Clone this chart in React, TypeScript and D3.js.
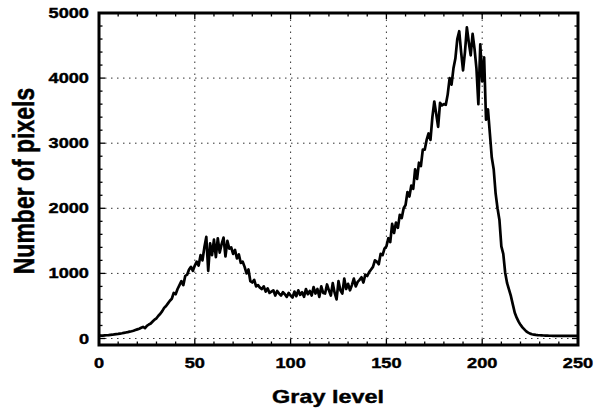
import React, { useEffect, useRef } from 'react';
import { select, scaleLinear, line, range, curveLinear } from 'd3';

const width = 597;
const height = 412;

// gray level histogram, one count per level (0..250)
const grayLevels = range(0, 251);
const pixelCounts = [
  50, 45, 45, 48, 50, 52, 55, 58, 62, 66,
  70, 75, 80, 86, 92, 98, 105, 112, 120, 130,
  140, 150, 165, 178, 160, 195, 215, 230, 260, 290,
  310, 350, 380, 420, 470, 500, 540, 580, 610, 700,
  680, 760, 820, 880, 820, 960, 980, 1060, 1100, 1040,
  1120, 1180, 1120, 1280, 1200, 1400, 1560, 1040, 1460, 1280,
  1520, 1250, 1540, 1320, 1450, 1550, 1260, 1500, 1380, 1400,
  1300, 1360, 1230, 1290, 1160, 1180, 1100, 1000, 1060, 880,
  860, 900, 800, 820, 780, 760, 800, 720, 770, 700,
  720, 740, 660, 730, 690, 660, 710, 680, 640, 700,
  660, 630, 720, 650, 740, 670, 710, 640, 760, 680,
  730, 660, 790, 690, 760, 640, 800, 700, 690, 830,
  740, 660, 850, 700, 600, 880, 740, 690, 920, 760,
  840, 740, 820, 920, 800, 870, 900, 940, 860, 980,
  960, 1020, 1060, 1100, 1200, 1180, 1140, 1300, 1280, 1380,
  1415, 1540, 1480, 1760, 1620, 1780, 1700, 1900, 1850, 2000,
  2050, 2250, 2180, 2350, 2300, 2600, 2450, 2700, 2650, 2900,
  2900, 3050, 3150, 3050, 3400, 3640, 3450, 3250, 3620, 3580,
  3600, 3590, 3750, 4000, 3900, 4150, 4300, 4600, 4720, 4400,
  4120, 4400, 4780, 4550, 4350, 4680, 4450, 4150, 3600, 4520,
  3950, 4320, 3360, 3520, 3150, 2780, 2600, 2230, 2000, 1820,
  1415, 1300, 1010, 850, 750, 650, 520, 395, 320, 260,
  210, 170, 140, 110, 90, 75, 65, 60, 55, 52,
  50, 48, 46, 45, 44, 42, 42, 40, 40, 40,
  40, 40, 40, 40, 40, 40, 40, 40, 40, 40, 40,
];

const xTicks = [0, 50, 100, 150, 200, 250];
const yTicks = [0, 1000, 2000, 3000, 4000, 5000];
const xMinor = range(0, 251, 10);
const yMinor = range(0, 5001, 200);

const App = () => {
  const svgRef = useRef<SVGSVGElement>(null);

  useEffect(() => {
    const svg = select(svgRef.current);
    svg.selectAll('*').remove();

    const font = '"Liberation Sans", Arial, Helvetica, sans-serif';
    const stretch = 1.3;

    // scales
    const x = scaleLinear().domain([0, 250]).range([99, 578]);
    const y = scaleLinear().domain([-100, 5000]).range([345, 13]);
    const [x0, x1] = x.range();
    const yb = y(-100), yt = y(5000);

    // grid
    const grid = svg.append('g')
      .attr('stroke', '#333')
      .attr('stroke-width', 1)
      .attr('stroke-dasharray', '1.5,4.5');
    grid.selectAll('line.h')
      .data(yTicks.slice(0, -1))
      .join('line')
        .attr('class', 'h')
        .attr('x1', x0).attr('x2', x1)
        .attr('y1', d => y(d)).attr('y2', d => y(d));
    grid.selectAll('line.v')
      .data(xTicks.slice(1, -1))
      .join('line')
        .attr('class', 'v')
        .attr('y1', yb).attr('y2', yt)
        .attr('x1', d => x(d)).attr('x2', d => x(d));

    // minor + major ticks, all inward, on every side
    const ticks = svg.append('g').attr('stroke', '#000').attr('stroke-width', 1.3);
    xMinor.forEach(d => {
      const len = d % 50 === 0 ? 6 : 3.5;
      ticks.append('line').attr('x1', x(d)).attr('x2', x(d)).attr('y1', yb).attr('y2', yb - len);
      ticks.append('line').attr('x1', x(d)).attr('x2', x(d)).attr('y1', yt).attr('y2', yt + len);
    });
    yMinor.forEach(d => {
      const len = d % 1000 === 0 ? 6 : 3.5;
      ticks.append('line').attr('y1', y(d)).attr('y2', y(d)).attr('x1', x0).attr('x2', x0 + len);
      ticks.append('line').attr('y1', y(d)).attr('y2', y(d)).attr('x1', x1).attr('x2', x1 - len);
    });

    // histogram line
    const path = line<number>()
      .x((d, i) => x(grayLevels[i]))
      .y(d => y(d))
      .curve(curveLinear);
    svg.append('path')
      .datum(pixelCounts)
      .attr('fill', 'none')
      .attr('stroke', '#000')
      .attr('stroke-width', 2.7)
      .attr('stroke-linejoin', 'round')
      .attr('d', path);

    // frame
    svg.append('rect')
      .attr('x', x0).attr('y', yt)
      .attr('width', x1 - x0).attr('height', yb - yt)
      .attr('fill', 'none')
      .attr('stroke', '#000')
      .attr('stroke-width', 3);

    // tick labels
    svg.append('g')
      .selectAll('text')
      .data(xTicks)
      .join('text')
        .attr('transform', d => `translate(${x(d)},368) scale(${stretch},1)`)
        .attr('text-anchor', 'middle')
        .style('font', `bold 14px ${font}`)
        .style('stroke', '#000').style('stroke-width', 0.4)
        .text(d => d);
    svg.append('g')
      .selectAll('text')
      .data(yTicks)
      .join('text')
        .attr('transform', d => `translate(89,${y(d)}) scale(${stretch},1)`)
        .attr('text-anchor', 'end')
        .attr('dy', '0.36em')
        .style('font', `bold 14px ${font}`)
        .style('stroke', '#000').style('stroke-width', 0.4)
        .text(d => d);

    // axis titles
    svg.append('text')
      .attr('transform', `translate(328,403) scale(${stretch},1)`)
      .attr('text-anchor', 'middle')
      .style('font', `bold 18px ${font}`)
      .style('stroke', '#000').style('stroke-width', 0.4)
      .text('Gray level');
    svg.append('text')
      .attr('transform', `translate(34,181) scale(${stretch},1) rotate(-90)`)
      .attr('text-anchor', 'middle')
      .style('font', `bold 23px ${font}`)
      .style('stroke', '#000').style('stroke-width', 0.4)
      .text('Number of pixels');
  }, []);

  return (
    <svg
      ref={svgRef}
      width={width}
      height={height}
      style={{ position: 'absolute', left: 0, top: 0, background: '#fff' }}
    />
  );
};

export default App;
